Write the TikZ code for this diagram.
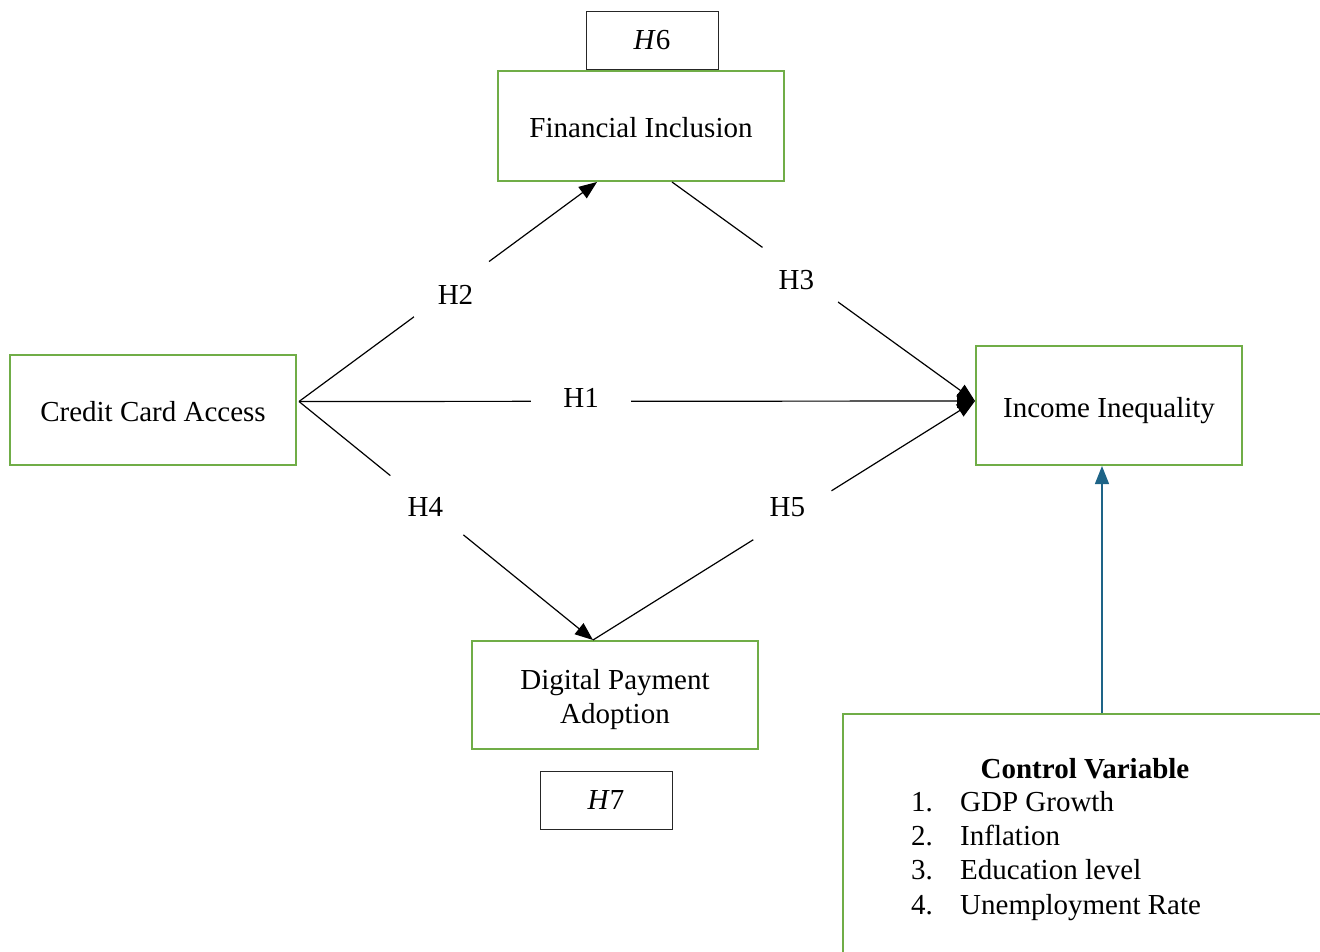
\documentclass[tikz,border=0pt]{standalone}
\usepackage{fontspec}
\setmainfont{Liberation Serif}
\usetikzlibrary{arrows.meta,calc}
\definecolor{boxgreen}{HTML}{70AD47}
\definecolor{ctrlblue}{RGB}{30,100,135}
\begin{document}
\begin{tikzpicture}[x=1pt,y=-1pt,
  every node/.style={font=\fontsize{29}{34}\selectfont},
  var/.style={draw=boxgreen, line width=2pt, minimum width=286pt, minimum height=110pt, align=center, inner sep=0pt, text height=23pt, text depth=0pt},
  hyp/.style={draw=black!85, line width=1pt, minimum width=132pt, minimum height=58pt, inner sep=0pt},
  link/.style={line width=1.2pt, -{Triangle[length=18pt,width=14pt]}},
  gap/.style={circle, fill=white, minimum size=94pt, inner sep=0pt},
  ctrl/.style={draw=ctrlblue, line width=1.3pt, -{Triangle[length=18pt,width=14pt]}},
  item/.style={anchor=base west, inner sep=0pt}
]
\useasboundingbox (0,0) rectangle (1320,951);
\clip (0,0) rectangle (1320,951);

% variable boxes
\node[var] (fi) at (641,126) {Financial Inclusion};
\node[var] (cca) at (153,410) {Credit Card Access};
\node[var, minimum width=266pt, minimum height=119pt] (ii) at (1109,405.5) {Income Inequality};
\node[var, minimum height=108pt, text height=57.2pt, text depth=0pt] (dpa) at (615,695) {Digital Payment\\Adoption};

% hypothesis boxes
\node[hyp] (h6) at (652,40) {\textit{H}6};
\node[hyp] (h7) at (606,800) {\textit{H}7};

% control variable box
\node[draw=boxgreen, line width=2pt, minimum width=520pt, minimum height=300pt, anchor=north west, inner sep=0pt] (cv) at (842,713) {};
\node[font=\fontsize{29}{34}\selectfont\bfseries, anchor=base, inner sep=0pt] (cvt) at (1085,778) {Control Variable};
\node[item] (cv1) at (911,811) {\makebox[49pt][l]{1.}GDP Growth};
\node[item] (cv2) at (911,845) {\makebox[49pt][l]{2.}Inflation};
\node[item] (cv3) at (911,879) {\makebox[49pt][l]{3.}Education level};
\node[item] (cv4) at (911,914) {\makebox[49pt][l]{4.}Unemployment Rate};

% connector end points
\coordinate (s) at ($(cca.east)+(2,-8.5)$);
\coordinate (fiIn) at ($(fi.south)+(-44,0)$);
\coordinate (fiOut) at ($(fi.south)+(31,0)$);
\coordinate (iiIn) at ($(ii.west)+(0,-4.5)$);
\coordinate (dIn) at ($(dpa.north)+(-22,0)$);
\coordinate (cvEnd) at ($(ii.south)+(-7,0)$);
\coordinate (cvStart) at (cvEnd |- cv.north);

% hypothesis paths
\draw[link] (s) -- node[gap, pos=0.515, shift={(3,6)}] (l2) {H2} (fiIn);
\draw[link] (fiOut) -- node[gap, pos=0.43, shift={(-6,4)}] (l3) {H3} (iiIn);
\draw[link] (s) -- node[fill=white, minimum width=100pt, minimum height=20pt, inner sep=0pt, pos=0.413, shift={(3,-3)}] (l1) {H1} (iiIn);
\draw[link] (s) -- node[gap, pos=0.43, shift={(0,3)}] (l4) {H4} (dIn);
\draw[link] (dIn) -- node[gap, pos=0.53, shift={(-8,-6)}] (l5) {H5} (iiIn);

% control arrow
\draw[ctrl] (cvStart) -- (cvEnd);
\end{tikzpicture}
\end{document}
